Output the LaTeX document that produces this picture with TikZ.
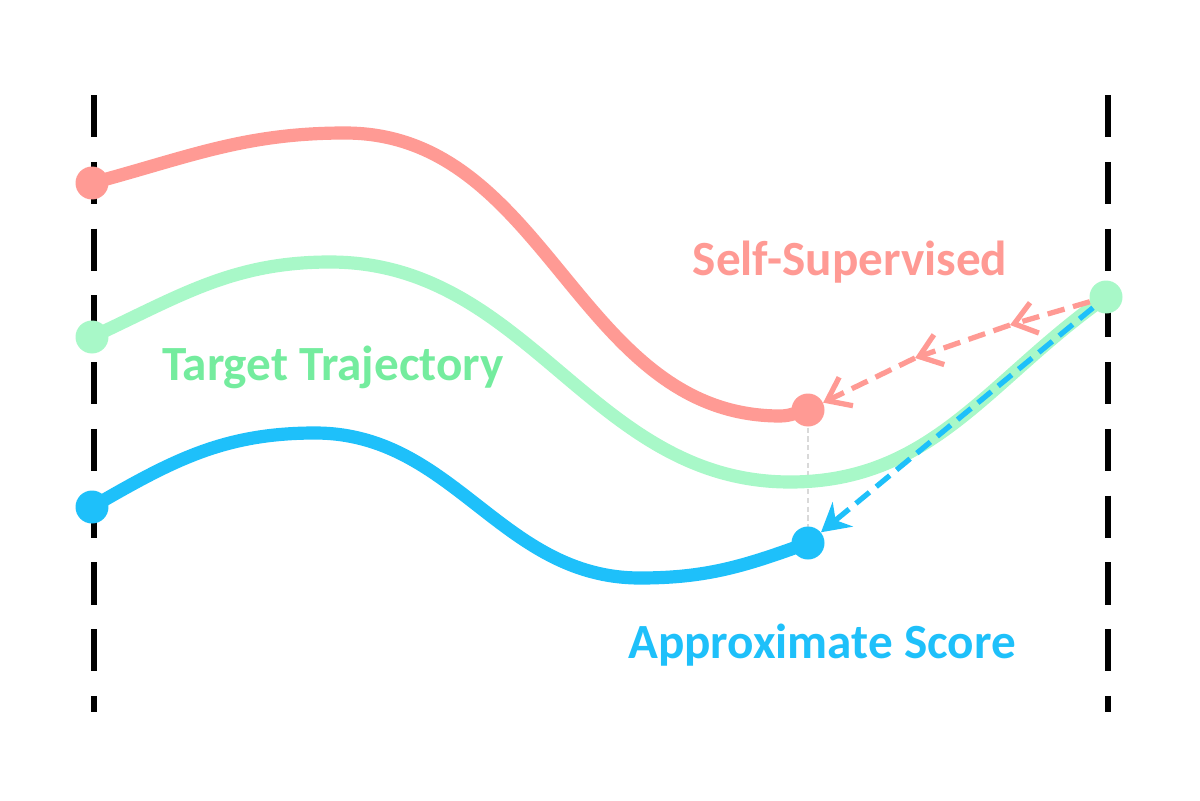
\documentclass[tikz,border=0pt]{standalone}
\usepackage{fontspec}
\setmainfont{Carlito}
\usepackage{tikz}
\usetikzlibrary{arrows.meta}
\usetikzlibrary{positioning}
\definecolor{selfred}{HTML}{FF9A94}
\definecolor{targetgreen}{HTML}{A8F8C8}
\definecolor{targettext}{HTML}{74EC9E}
\definecolor{scoreblue}{HTML}{1EC0FA}

\begin{document}
\begin{tikzpicture}[x=0.02cm, y=-0.02cm]

\tikzstyle{traj}=[line width=7.5pt, line cap=round]
\tikzstyle{boundary}=[draw, line width=3pt, dash pattern=on 24pt off 14pt]
\tikzstyle{dot}=[circle, inner sep=0pt, minimum size=0.66cm]
\tikzstyle{label}=[font=\fontsize{28}{32}\selectfont\bfseries]
\tikzstyle{update}=[draw, line width=3pt, dash pattern=on 10pt off 5pt]

\useasboundingbox (0,0) rectangle (1200,801);

\path[boundary] (94,95) -- (94,712);
\path[boundary] (1108,95) -- (1108,712);

\coordinate (red_start) at (92,183);
\coordinate (green_start) at (92,337);
\coordinate (blue_start) at (92,507);
\coordinate (red_end) at (808,410);
\coordinate (green_end) at (1106,297);
\coordinate (blue_end) at (808,543);
\coordinate (red_mid_a) at (1010,325);
\coordinate (red_mid_b) at (915,358);

\draw[dash pattern=on 3pt off 2pt, gray!30, line width=0.8pt] (red_end) -- (blue_end);

\draw[traj, selfred] (red_start) to[out=15,in=180] (345,133) to[out=0,in=180] (780,416) to[out=0,in=190] (red_end);
\draw[traj, targetgreen] (green_start) to[out=25,in=180] (330,262) to[out=0,in=180] (790,482) to[out=0,in=215] (green_end);
\draw[traj, scoreblue] (blue_start) to[out=30,in=180] (315,433) to[out=0,in=180] (640,578) to[out=0,in=200] (blue_end);

\node[dot, fill=selfred] (red_dot_start) at (red_start) {};
\node[dot, fill=targetgreen] (green_dot_start) at (green_start) {};
\node[dot, fill=scoreblue] (blue_dot_start) at (blue_start) {};
\node[dot, fill=selfred] (red_dot_end) at (red_end) {};
\node[dot, fill=targetgreen] (green_dot_end) at (green_end) {};
\node[dot, fill=scoreblue] (blue_dot_end) at (blue_end) {};

\path[update, selfred, -{Straight Barb[length=12pt,width=18pt]}] (green_dot_end) -- (red_mid_a);
\path[update, selfred, -{Straight Barb[length=12pt,width=18pt]}] (red_mid_a) -- (red_mid_b);
\path[update, selfred, -{Straight Barb[length=12pt,width=18pt]}] (red_mid_b) -- (red_dot_end);
\path[update, scoreblue, -{Stealth[length=16pt,width=18pt]}] (green_dot_end) -- (blue_dot_end);

\node[label, text=selfred] (self_label) at (850,262) {Self-Supervised};
\node[label, text=targettext] (target_label) at (333,367) {Target Trajectory};
\node[label, text=scoreblue] (score_label) at (822,645) {Approximate Score};

\end{tikzpicture}
\end{document}
